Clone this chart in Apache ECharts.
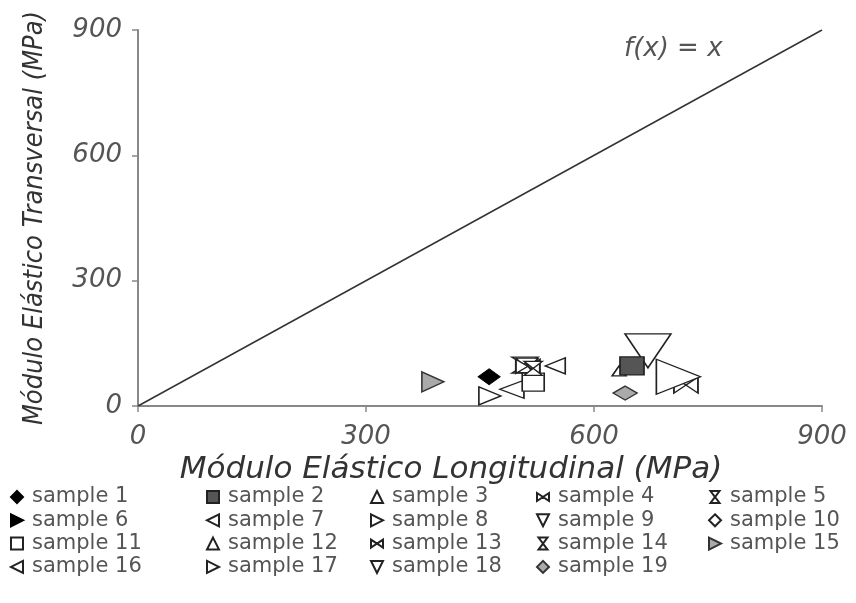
<!DOCTYPE html>
<html>
<head>
<meta charset="utf-8">
<script src="https://cdn.jsdelivr.net/npm/echarts@6/dist/echarts.min.js"></script>
<style>html,body{margin:0;padding:0;background:#fff}#c{width:856px;height:603px}</style>
</head>
<body>
<div id="c"></div>
<script>
const categories = ['sample 1','sample 2','sample 3','sample 4','sample 5','sample 6','sample 7','sample 8','sample 9','sample 10','sample 11','sample 12','sample 13','sample 14','sample 15','sample 16','sample 17','sample 18','sample 19'];
const xValues = [462, 650, 633, 721, 509, 518, 492, 463, 512, 520, 520, 510, 513, 520, 388, 549, 711, 671, 641];
const yValues = [70, 96, 84, 50, 98, 88, 40, 24, 100, 70, 57, 92, 95, 90, 58, 96, 70, 132, 31];
const markerSizes = [[22,16],[24,18],[14,10],[24,16],[26,16],[12,10],[24,18],[22,18],[22,12],[14,10],[22,18],[14,10],[24,14],[18,14],[22,20],[20,16],[44,35],[46,34],[24,14]];
const axisTicks = [0, 300, 600, 900];
const identityLine = [[0, 0], [900, 900]];

const P = {
  diamond: 'diamond',
  rect: 'rect',
  up: 'triangle',
  right: 'path://M0,0 L10,5 L0,10 Z',
  left: 'path://M10,0 L0,5 L10,10 Z',
  down: 'path://M0,0 L10,0 L5,10 Z',
  bowtie: 'path://M0,0 L6,4 L0,8 Z M12,0 L6,4 L12,8 Z',
  hourglass: 'path://M0,0 L9,0 L4.5,6 Z M0,12 L9,12 L4.5,6 Z'
};
const OPEN = {color:'#fff', borderColor:'#222', borderWidth:1.5, opacity:1};
const styles = [
  {s:P.diamond, st:{color:'#000', borderColor:'#000', borderWidth:1, opacity:1}},
  {s:P.rect, st:{color:'#555', borderColor:'#222', borderWidth:1.5, opacity:1}, z:3},
  {s:P.up, st:OPEN},
  {s:P.bowtie, st:OPEN},
  {s:P.hourglass, st:OPEN},
  {s:P.right, st:{color:'#000', borderColor:'#000', borderWidth:1, opacity:1}},
  {s:P.left, st:OPEN},
  {s:P.right, st:OPEN},
  {s:P.down, st:OPEN},
  {s:P.diamond, st:OPEN},
  {s:P.rect, st:OPEN},
  {s:P.up, st:OPEN},
  {s:P.bowtie, st:OPEN},
  {s:P.hourglass, st:OPEN},
  {s:P.right, st:{color:'#aaa', borderColor:'#333', borderWidth:1.5, opacity:1}},
  {s:P.left, st:OPEN},
  {s:P.right, st:OPEN},
  {s:P.down, st:OPEN},
  {s:P.diamond, st:{color:'#aaa', borderColor:'#333', borderWidth:1.5, opacity:1}}
];

const series = categories.map((name, i) => ({
  name: name,
  type: 'scatter',
  symbol: styles[i].s,
  symbolSize: markerSizes[i],
  itemStyle: styles[i].st,
  z: styles[i].z || 2,
  data: [[xValues[i], yValues[i]]]
}));
series.unshift({
  name: 'f(x) = x',
  type: 'line',
  data: identityLine,
  symbol: 'none',
  lineStyle: {color:'#333', width:1.5},
  silent: true,
  z: 1
});

const colLefts = [5, 201, 365, 531, 703];
const legends = colLefts.map((l, c) => ({
  orient: 'vertical',
  left: l,
  top: 481,
  itemWidth: 12,
  itemHeight: 12,
  itemGap: 1.3,
  textStyle: {fontFamily:'DejaVu Sans', fontSize:21, color:'#555', lineHeight:22, padding:[0,0,0,4]},
  data: categories.filter((_, i) => i % 5 === c)
}));

const axisFont = {fontFamily:'DejaVu Sans', fontStyle:'italic', fontSize:26, color:'#555'};
const chart = echarts.init(document.getElementById('c'), null, {renderer:'canvas'});
chart.setOption({
  backgroundColor: '#fff',
  animation: false,
  grid: {left:138, right:34, top:30, bottom:197},
  legend: legends,
  xAxis: {
    type: 'value', min: axisTicks[0], max: axisTicks[axisTicks.length-1], interval: 300,
    name: 'Módulo Elástico Longitudinal (MPa)', nameLocation: 'middle', nameGap: 46,
    nameTextStyle: {fontFamily:'DejaVu Sans', fontStyle:'italic', fontSize:31, color:'#333', padding:[0,58,0,0]},
    axisLine: {lineStyle:{color:'#888', width:2}},
    axisTick: {show:true, length:6, lineStyle:{color:'#888', width:1.5}},
    axisLabel: Object.assign({margin:18}, axisFont),
    splitLine: {show:false}
  },
  yAxis: {
    type: 'value', min: axisTicks[0], max: axisTicks[axisTicks.length-1], interval: 300,
    name: 'Módulo Elástico Transversal (MPa)', nameLocation: 'middle', nameGap: 90, nameRotate: 90,
    nameTextStyle: {fontFamily:'DejaVu Sans Condensed', fontStyle:'italic', fontSize:27, color:'#333'},
    axisLine: {lineStyle:{color:'#888', width:2}},
    axisTick: {show:true, length:6, lineStyle:{color:'#888', width:1.5}},
    axisLabel: Object.assign({margin:16}, axisFont),
    splitLine: {show:false}
  },
  graphic: [{
    type: 'text', left: 624, top: 36,
    style: {text:'f(x) = x', font:'italic 26px "DejaVu Sans"', fill:'#555'}
  }],
  series: series
});
</script>
</body>
</html>
